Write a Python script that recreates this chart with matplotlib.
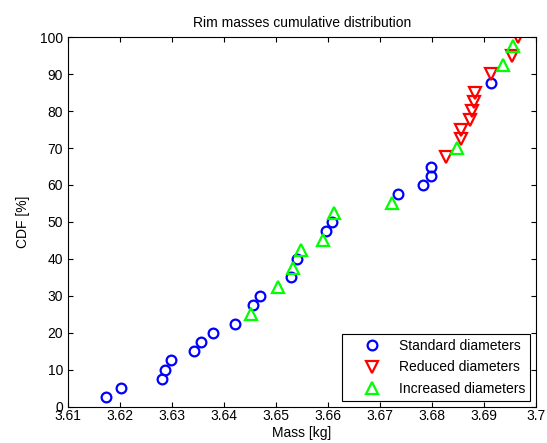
import numpy as np
import matplotlib
matplotlib.use('Agg')
import matplotlib.pyplot as plt

plt.rcParams['font.family'] = ['Liberation Sans', 'DejaVu Sans']

# masses [kg] and CDF [%] for each group
std_mass = [3.6174, 3.6201, 3.6280, 3.6287, 3.6299, 3.6342, 3.6356, 3.6379, 3.6421,
            3.6456, 3.6469, 3.6529, 3.6540, 3.6596, 3.6608, 3.6734, 3.6783, 3.6799,
            3.6799, 3.6913]
std_cdf = [2.5, 5, 7.5, 10, 12.5, 15, 17.5, 20, 22.5,
           27.5, 30, 35, 40, 47.5, 50, 57.5, 60, 62.5,
           65, 87.5]

red_mass = [3.6827, 3.6855, 3.6856, 3.6874, 3.6876, 3.6881, 3.6883, 3.6913, 3.6953, 3.6965]
red_cdf = [67.5, 72.5, 75, 77.5, 80, 82.5, 85, 90, 95, 100]

inc_mass = [3.6452, 3.6504, 3.6532, 3.6548, 3.6590, 3.6611, 3.6724, 3.6849, 3.6937, 3.6956]
inc_cdf = [25, 32.5, 37.5, 42.5, 45, 52.5, 55, 70, 92.5, 97.5]

xticks = [3.61, 3.62, 3.63, 3.64, 3.65, 3.66, 3.67, 3.68, 3.69, 3.7]
xlabels = ['3.61', '3.62', '3.63', '3.64', '3.65', '3.66', '3.67', '3.68', '3.69', '3.7']
yticks = list(range(0, 101, 10))

fs = 10

fig = plt.figure(figsize=(5.47, 4.43), dpi=100)
ax = fig.add_axes([0.1243, 0.082, 0.8556, 0.834])

ax.plot(std_mass, std_cdf, 'o', ls='none', mfc='none', mec=(0, 0, 1), ms=7, mew=1.6,
        label='Standard diameters')
ax.plot(red_mass, red_cdf, 'v', ls='none', mfc='none', mec=(1, 0, 0), ms=8, mew=1.6,
        label='Reduced diameters')
ax.plot(inc_mass, inc_cdf, '^', ls='none', mfc='none', mec=(0, 1, 0), ms=8, mew=1.6,
        label='Increased diameters')

ax.set_xlim(3.61, 3.7)
ax.set_ylim(0, 100)
ax.set_xticks(xticks)
ax.set_xticklabels(xlabels)
ax.set_yticks(yticks)
ax.tick_params(direction='in', top=True, right=True, labelsize=fs, length=3.5, width=0.8)
ax.tick_params(axis='x', pad=2)
ax.tick_params(axis='y', pad=3.5)
for s in ax.spines.values():
    s.set_linewidth(0.8)

ax.set_title('Rim masses cumulative distribution', fontsize=fs, pad=7)
ax.set_xlabel('Mass [kg]', fontsize=fs, labelpad=2)
ax.set_ylabel('CDF [%]', fontsize=fs, labelpad=7)

leg = ax.legend(loc='lower right', fontsize=fs, fancybox=False, framealpha=1,
                edgecolor='black', borderaxespad=0.43, handlelength=3.6,
                handletextpad=0.15, labelspacing=0.53, borderpad=0.35)
leg.get_frame().set_linewidth(0.8)

fig.savefig('out.png', dpi=100)
